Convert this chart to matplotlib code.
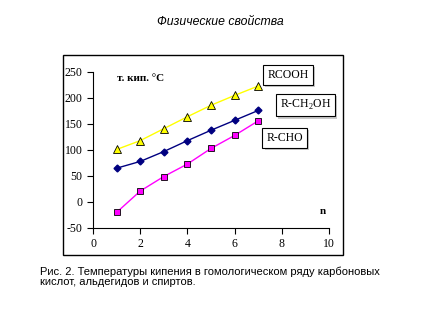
import matplotlib.pyplot as plt
import matplotlib.patheffects as pe
from matplotlib.patches import Rectangle

# data
n = [1, 2, 3, 4, 5, 6, 7]
t_acid = [101, 118, 141, 164, 186, 205, 223]
t_alcohol = [65, 78, 97, 118, 138, 157, 176]
t_aldehyde = [-20, 21, 49, 73, 103, 128, 156]

serif = 'Liberation Serif'
sans = 'Liberation Sans'

plt.rcParams['mathtext.fontset'] = 'custom'
plt.rcParams['mathtext.rm'] = serif
plt.rcParams['axes.unicode_minus'] = False

fig = plt.figure(figsize=(4.4, 3.3), dpi=100)

# outer chart frame
fig.patches.append(Rectangle((63/440, 1 - 255/330), 280/440, 200/330,
                             transform=fig.transFigure, fill=False,
                             edgecolor='black', linewidth=1.0))

ax = fig.add_axes([93/440, 1 - 228/330, 236/440, 156/330])
ax.plot(n, t_acid, color='#ffff00', lw=1, marker='^', ms=6,
        mfc='#ffff00', mec='black', mew=0.6)
ax.plot(n, t_alcohol, color='#000080', lw=1, marker='D', ms=3.5,
        mfc='#000080', mec='#000080')
ax.plot(n, t_aldehyde, color='#ff00ff', lw=1, marker='s', ms=4.5,
        mfc='#ff00ff', mec='black', mew=0.6)

ax.set_xlim(0, 10)
ax.set_ylim(-50, 250)
ax.set_xticks(range(0, 11, 2))
ax.set_yticks(range(-50, 251, 50))
ax.spines['top'].set_visible(False)
ax.spines['right'].set_visible(False)
ax.tick_params(direction='out', length=4, width=0.8, labelsize=8.5)
for lab in ax.get_xticklabels() + ax.get_yticklabels():
    lab.set_fontfamily(serif)

ax.text(1.0, 238, 'т. кип. °C', family=serif, fontsize=8, fontweight='bold',
        va='center', ha='left')
ax.text(9.75, -19, 'n', family=serif, fontsize=8, fontweight='bold',
        va='center', ha='center')

boxes = [('RCOOH', 8.26, 244), ('R-CH$_2$OH', 9.0, 186), ('R-CHO', 8.13, 123)]
for txt, x, y in boxes:
    t = ax.text(x, y, txt, family=serif, fontsize=8.5, ha='center', va='center',
                bbox=dict(boxstyle='square,pad=0.35', fc='white', ec='black', lw=0.8))
    t.get_bbox_patch().set_path_effects([pe.SimplePatchShadow(offset=(1.5, -1.5)),
                                         pe.Normal()])

fig.text(0.5, 1 - 22/330, 'Физические свойства', family=sans, style='italic',
         fontsize=8.8, ha='center', va='center')
fig.text(40/440, 1 - 267/330,
         'Рис. 2. Температуры кипения в гомологическом ряду карбоновых\n'
         'кислот, альдегидов и спиртов.',
         family=sans, fontsize=8, ha='left', va='top', linespacing=1.0)

fig.savefig('out.png', dpi=100)
